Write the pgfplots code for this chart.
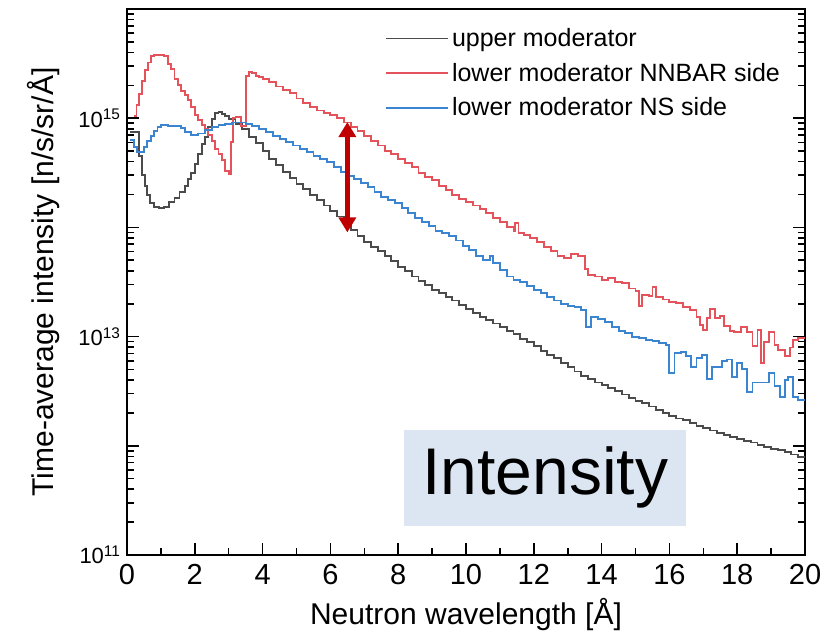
\documentclass[border=0pt]{standalone}
\usepackage{fontspec}
\setmainfont{Liberation Sans}
\usepackage{pgfplots}
\usepackage{pgfplotstable}
\pgfplotsset{compat=1.18}
\usetikzlibrary{arrows.meta,calc}
\definecolor{upgray}{RGB}{75,75,75}
\definecolor{lowred}{RGB}{228,82,92}
\definecolor{lowblue}{RGB}{58,132,208}
\definecolor{arrowred}{RGB}{192,0,0}
\definecolor{boxblue}{RGB}{220,230,242}

% x = wavelength [A], ly = log10(intensity)
\pgfplotstableread{
x ly
0.10 14.87
0.30 14.87
0.36 14.65
0.44 14.48
0.52 14.38
0.60 14.30
0.68 14.22
0.80 14.19
0.95 14.18
1.10 14.19
1.25 14.23
1.40 14.27
1.55 14.32
1.70 14.38
1.80 14.44
1.90 14.50
2.00 14.58
2.10 14.67
2.20 14.76
2.30 14.83
2.40 14.92
2.50 14.99
2.60 15.05
2.70 15.06
2.80 15.04
2.90 15.02
3.00 14.99
3.20 14.95
3.40 14.90
3.60 14.83
3.80 14.77
4.00 14.70
4.20 14.63
4.40 14.57
4.60 14.51
4.80 14.45
5.00 14.40
5.20 14.35
5.40 14.30
5.60 14.25
5.80 14.20
6.00 14.15
6.20 14.10
6.40 14.04
6.60 13.98
6.80 13.92
7.00 13.87
7.20 13.82
7.40 13.78
7.60 13.74
7.80 13.69
8.00 13.64
8.20 13.60
8.40 13.55
8.60 13.51
8.80 13.47
9.00 13.43
9.20 13.40
9.40 13.36
9.60 13.33
9.80 13.29
10.00 13.25
10.20 13.22
10.40 13.18
10.60 13.15
10.80 13.12
11.00 13.09
11.20 13.05
11.40 13.02
11.60 12.98
11.80 12.95
12.00 12.91
12.20 12.87
12.40 12.83
12.60 12.80
12.80 12.76
13.00 12.72
13.20 12.68
13.40 12.64
13.60 12.61
13.80 12.58
14.00 12.56
14.20 12.53
14.40 12.50
14.60 12.47
14.80 12.44
15.00 12.41
15.20 12.39
15.40 12.36
15.60 12.33
15.80 12.30
16.00 12.27
16.20 12.25
16.40 12.24
16.60 12.21
16.80 12.18
17.00 12.16
17.20 12.14
17.40 12.12
17.60 12.10
17.80 12.08
18.00 12.06
18.20 12.04
18.40 12.03
18.60 12.01
18.80 11.99
19.00 11.97
19.20 11.96
19.40 11.94
19.60 11.92
19.80 11.90
20.00 11.89
}\upper

\pgfplotstableread{
x ly
0.20 15.02
0.28 15.12
0.36 15.22
0.44 15.34
0.52 15.44
0.62 15.51
0.72 15.57
0.80 15.58
1.00 15.58
1.10 15.57
1.20 15.50
1.30 15.45
1.40 15.36
1.50 15.30
1.60 15.25
1.70 15.21
1.80 15.17
1.90 15.10
2.00 15.03
2.10 14.98
2.20 14.94
2.30 14.90
2.40 14.85
2.50 14.79
2.60 14.72
2.70 14.67
2.80 14.62
2.90 14.52
3.00 14.49
3.08 14.78
3.14 15.00
3.20 15.01
3.36 14.93
3.52 15.39
3.60 15.42
3.70 15.41
3.80 15.39
3.90 15.38
4.00 15.36
4.20 15.33
4.40 15.29
4.60 15.26
4.80 15.23
5.00 15.18
5.20 15.14
5.40 15.10
5.60 15.07
5.80 15.05
6.00 15.03
6.20 15.00
6.40 14.96
6.60 14.92
6.80 14.88
7.00 14.84
7.20 14.79
7.40 14.75
7.60 14.70
7.80 14.67
8.00 14.63
8.20 14.59
8.40 14.55
8.60 14.50
8.80 14.46
9.00 14.43
9.20 14.38
9.40 14.34
9.60 14.30
9.80 14.26
10.00 14.23
10.20 14.20
10.40 14.17
10.60 14.13
10.80 14.09
11.00 14.05
11.20 14.00
11.40 13.97
11.45 14.04
11.55 13.95
11.70 13.93
11.90 13.90
12.10 13.87
12.30 13.82
12.50 13.78
12.70 13.74
12.90 13.72
13.10 13.76
13.30 13.74
13.50 13.62
13.60 13.56
13.80 13.55
14.00 13.52
14.20 13.54
14.40 13.50
14.60 13.49
14.80 13.44
15.00 13.42
15.10 13.28
15.20 13.38
15.40 13.37
15.50 13.45
15.60 13.36
15.80 13.34
16.00 13.32
16.20 13.31
16.40 13.27
16.60 13.24
16.80 13.18
16.90 13.11
17.00 13.06
17.10 13.17
17.20 13.25
17.35 13.17
17.50 13.19
17.60 13.10
17.80 13.05
17.90 13.04
18.10 13.09
18.30 13.04
18.45 12.91
18.60 13.06
18.70 12.76
18.80 12.95
18.95 13.04
19.10 12.92
19.20 12.88
19.40 12.82
19.55 12.90
19.65 12.97
19.80 12.99
20.00 12.99
}\nnbar

\pgfplotstableread{
x ly
0.10 14.80
0.20 14.74
0.30 14.69
0.40 14.69
0.50 14.74
0.60 14.79
0.70 14.84
0.80 14.88
0.90 14.92
1.00 14.94
1.20 14.93
1.40 14.93
1.60 14.91
1.70 14.87
1.90 14.85
2.10 14.86
2.30 14.89
2.50 14.92
2.70 14.94
2.90 14.95
3.10 14.96
3.30 14.96
3.50 14.95
3.70 14.93
3.90 14.90
4.10 14.87
4.30 14.84
4.50 14.81
4.70 14.78
4.90 14.75
5.10 14.72
5.30 14.69
5.50 14.65
5.70 14.63
5.90 14.60
6.10 14.55
6.30 14.51
6.50 14.47
6.70 14.44
6.90 14.41
7.10 14.37
7.30 14.32
7.50 14.28
7.70 14.25
7.90 14.22
8.10 14.18
8.30 14.13
8.50 14.09
8.70 14.05
8.90 14.01
9.10 13.97
9.30 13.95
9.50 13.92
9.70 13.88
9.90 13.83
10.10 13.79
10.30 13.74
10.50 13.70
10.70 13.74
10.80 13.67
11.00 13.61
11.20 13.55
11.40 13.52
11.60 13.50
11.80 13.46
12.00 13.43
12.20 13.40
12.40 13.36
12.60 13.33
12.80 13.30
13.00 13.28
13.20 13.27
13.40 13.24
13.55 13.09
13.70 13.18
13.90 13.16
14.10 13.13
14.30 13.09
14.50 13.05
14.70 13.03
14.90 13.00
15.10 12.99
15.30 12.97
15.50 12.96
15.70 12.94
15.90 12.92
16.00 12.67
16.15 12.85
16.35 12.86
16.50 12.82
16.65 12.72
16.80 12.80
16.95 12.83
17.10 12.61
17.25 12.72
17.40 12.72
17.55 12.78
17.70 12.79
17.85 12.63
18.00 12.76
18.15 12.70
18.30 12.49
18.45 12.58
18.60 12.58
18.80 12.58
18.95 12.67
19.10 12.55
19.25 12.45
19.40 12.60
19.50 12.63
19.65 12.45
19.80 12.42
20.00 12.42
}\nsside

\begin{document}
\begin{tikzpicture}
\begin{axis}[
  scale only axis,
  width=678pt, height=546pt,
  xmin=0, xmax=20,
  ymode=log, ymin=1e11, ymax=1e16,
  xtick={0,2,...,20},
  minor x tick num=1,
  ytickten={11,...,16},
  yticklabels={10\textsuperscript{11},,10\textsuperscript{13},,10\textsuperscript{15},},
  /pgf/number format/assume math mode=true,
  tick align=inside,
  xtick pos=bottom,
  ytick pos=both,
  major tick length=12pt,
  minor tick length=7pt,
  axis line style={line width=1.6pt},
  every tick/.style={black, line width=1.6pt},
  x tick label style={font=\fontsize{29}{31}\selectfont, yshift=-6pt},
  y tick label style={font=\fontsize{22}{24}\selectfont, xshift=-3pt},
  xlabel={Neutron wavelength [Å]},
  ylabel={Time-average intensity [n/s/sr/Å]},
  label style={font=\fontsize{30}{32}\selectfont},
  xlabel style={yshift=-6pt},
  ylabel style={yshift=12pt},
  legend style={at={(0.376,0.968)}, anchor=north west, draw=none, fill=none,
    font=\fontsize{25}{27}\selectfont, row sep=15pt,
    nodes={inner xsep=3pt, inner ysep=0pt}},
  legend cell align=left,
  legend image code/.code={\draw[#1] (0pt,0pt) -- (62pt,0pt);},
]
\addplot[const plot, upgray, line width=1.9pt] table[x=x, y expr=10^\thisrow{ly}] {\upper};
\addlegendentry{upper moderator}
\addplot[const plot, lowred, line width=1.9pt] table[x=x, y expr=10^\thisrow{ly}] {\nnbar};
\addlegendentry{lower moderator NNBAR side}
\addplot[const plot, lowblue, line width=1.9pt] table[x=x, y expr=10^\thisrow{ly}] {\nsside};
\addlegendentry{lower moderator NS side}

\draw[arrowred, line width=5pt,
  {Triangle[width=17pt,length=15pt]}-{Triangle[width=17pt,length=15pt]}]
  (axis cs:6.5,9.2e14) -- (axis cs:6.5,9.0e13);

\node[fill=boxblue, anchor=south west, inner sep=0pt,
  minimum width=282pt, minimum height=96pt,
  font=\fontsize{66}{70}\selectfont]
  at (rel axis cs:0.4086,0.053) {Intensity};

\coordinate (sw) at (rel axis cs:0,0);
\coordinate (ne) at (rel axis cs:1,1);
\end{axis}
\pgfresetboundingbox
\path[use as bounding box] ($(sw)+(-127pt,-76pt)$) rectangle ($(ne)+(33pt,9pt)$);
\end{tikzpicture}
\end{document}
